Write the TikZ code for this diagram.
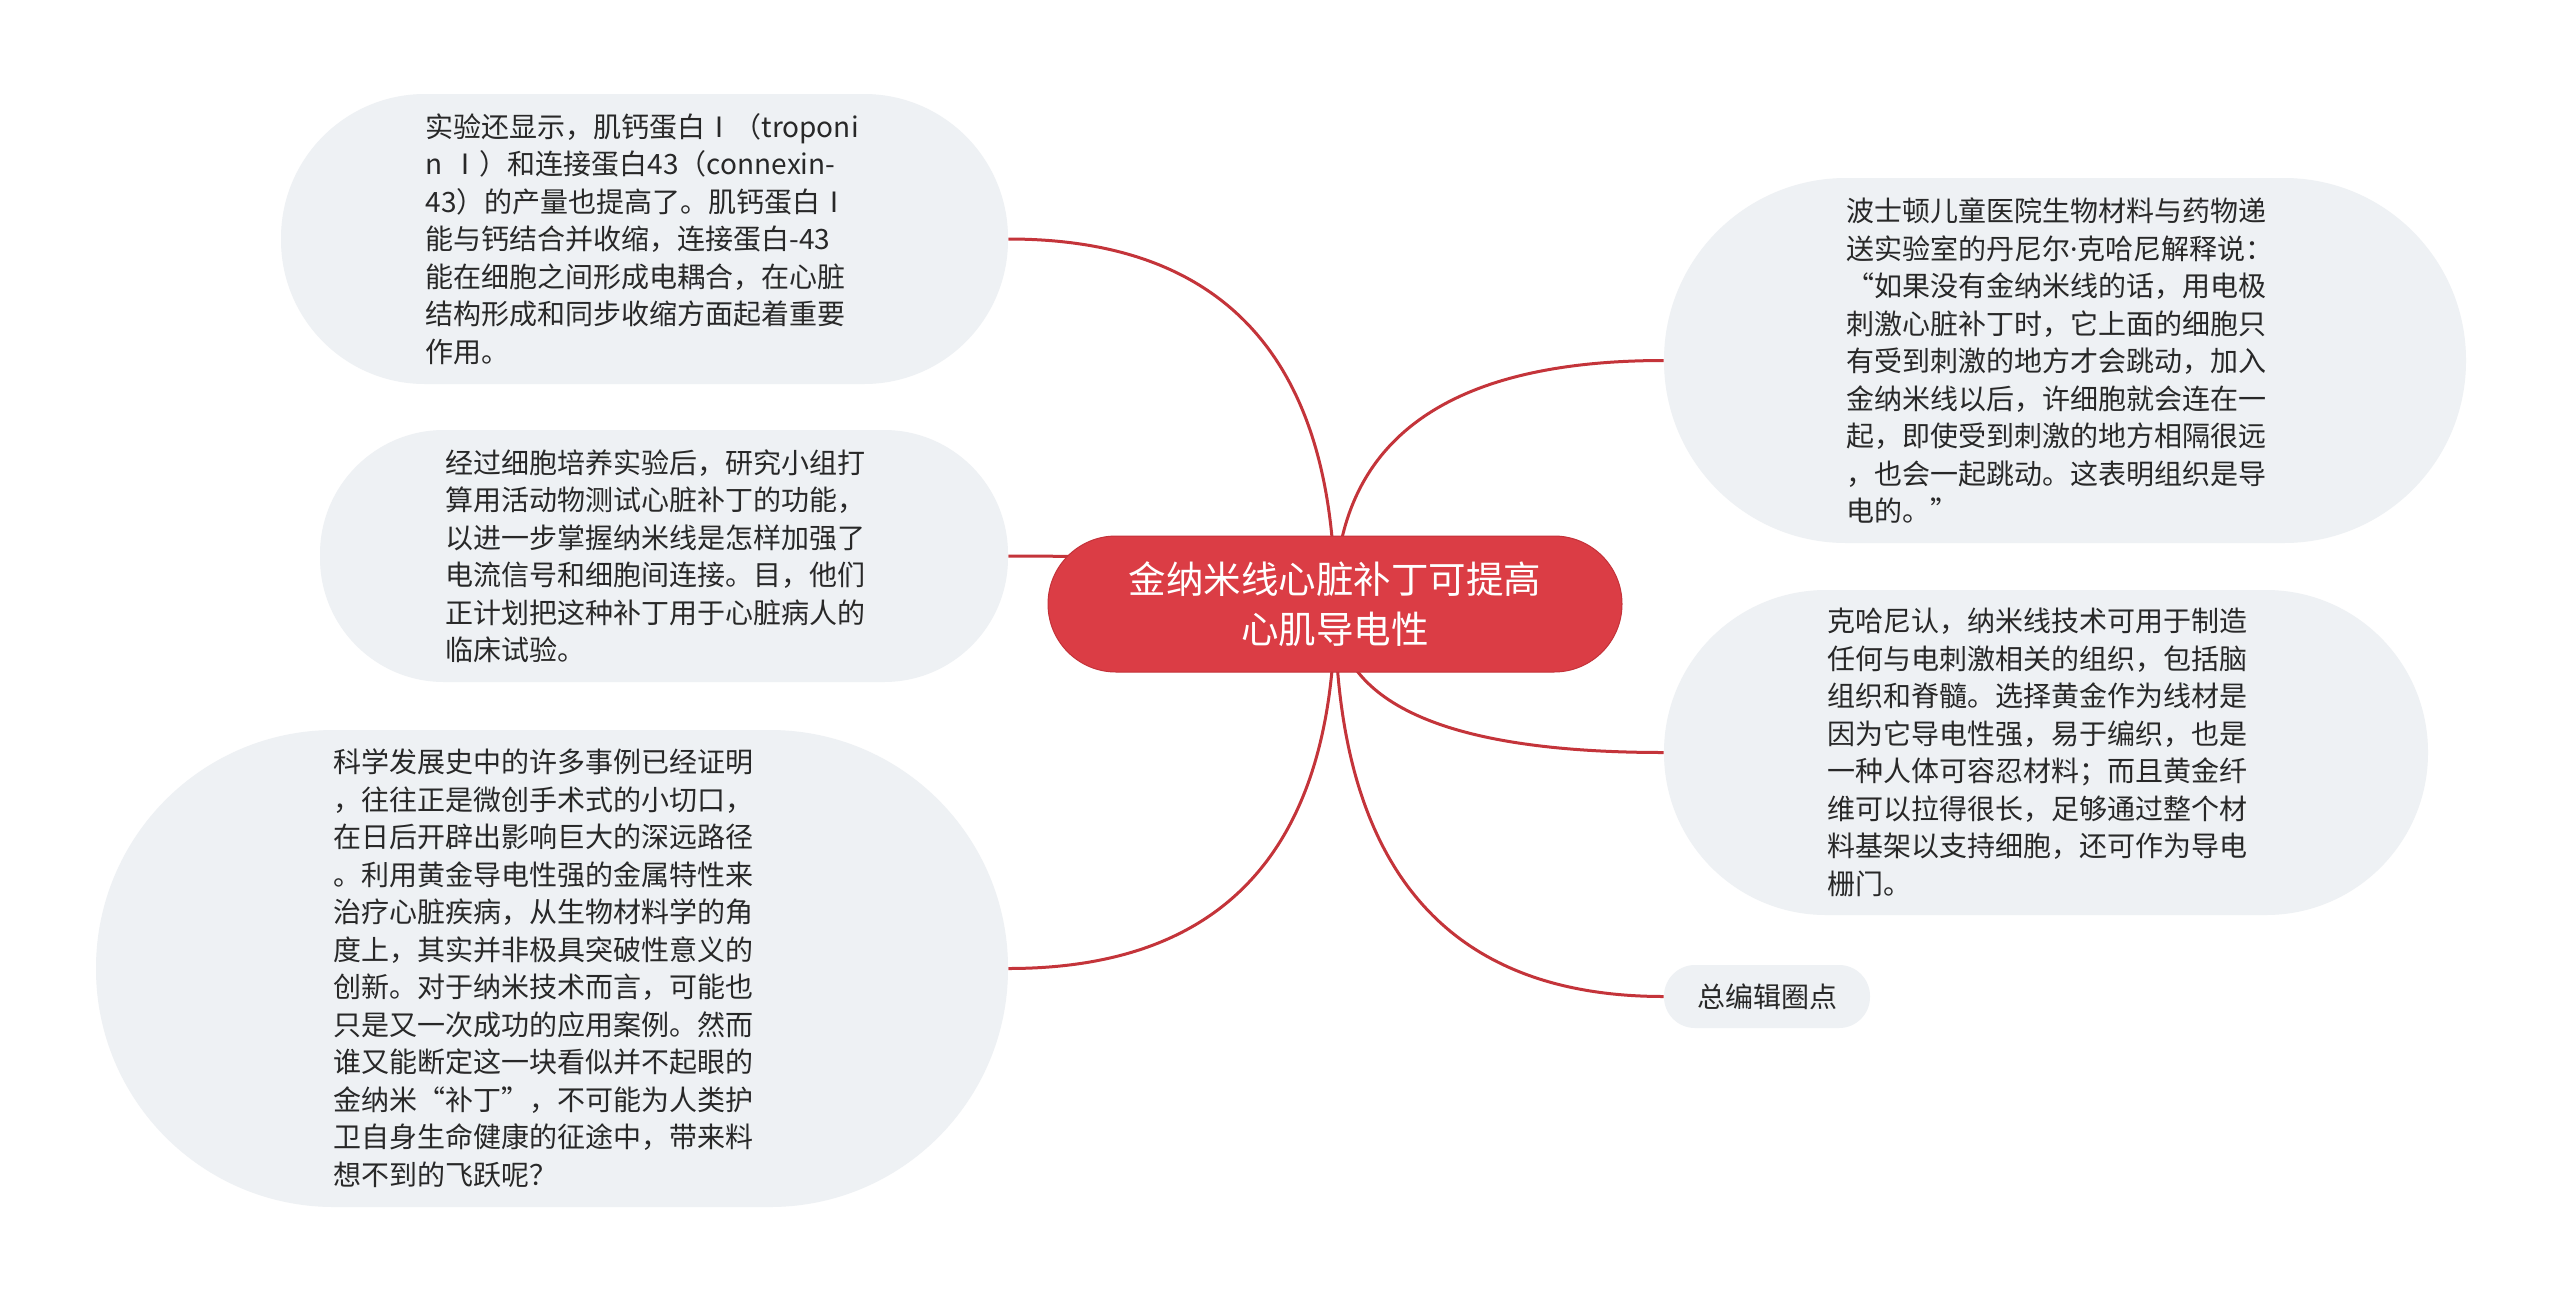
\documentclass[tikz,border=0pt]{standalone}
\usepackage{fontspec}
\usepackage{xcolor}
\usepackage{tikz}
\usetikzlibrary{calc,backgrounds}
\newfontfamily\cjk{Noto Sans CJK SC}
\newfontfamily\latin{Noto Sans}
\definecolor{boxfill}{RGB}{238,241,244}
\definecolor{rootred}{RGB}{219,61,69}
\definecolor{rootedge}{RGB}{196,50,57}
\definecolor{linkred}{RGB}{196,52,58}
\definecolor{bodytext}{RGB}{40,40,40}
\tikzset{
    bubble/.style={fill=boxfill, text=bodytext, inner sep=0pt, font=\cjk\fontsize{14}{18.75}\selectfont},
    para/.style={text width=219pt, align=left},
    rootbox/.style={fill=rootred, draw=rootedge, line width=0.5pt, text=white, inner sep=0pt, align=center, font=\cjk\fontsize{18.75}{25}\selectfont},
    link/.style={draw=linkred, line width=1.5pt}
}
\begin{document}
\begin{tikzpicture}[x=0.5pt, y=-0.5pt]
        \useasboundingbox (0,0) rectangle (2560,1302);
        \node[rootbox, minimum width=287pt, minimum height=68pt, rounded corners=34pt] (root) at (1335,604) {金纳米线心脏补丁可提高\\心肌导电性};
        \node[bubble, para, minimum width=363.5pt, minimum height=145pt, rounded corners=72pt] (t1) at (644.5,239) {实验还显示，肌钙蛋白Ⅰ（troponi\\n~Ⅰ）和连接蛋白43（connexin-\\43）的产量也提高了。肌钙蛋白Ⅰ\\能与钙结合并收缩，连接蛋白-43\\能在细胞之间形成电耦合，在心脏\\结构形成和同步收缩方面起着重要\\作用。};
        \node[bubble, para, minimum width=344pt, minimum height=126pt, rounded corners=62pt] (t2) at (664,556) {经过细胞培养实验后，研究小组打\\算用活动物测试心脏补丁的功能，\\以进一步掌握纳米线是怎样加强了\\电流信号和细胞间连接。目，他们\\正计划把这种补丁用于心脏病人的\\临床试验。};
        \node[bubble, para, minimum width=456pt, minimum height=238.5pt, rounded corners=119pt] (t3) at (552,968.5) {科学发展史中的许多事例已经证明\\，往往正是微创手术式的小切口，\\在日后开辟出影响巨大的深远路径\\。利用黄金导电性强的金属特性来\\治疗心脏疾病，从生物材料学的角\\度上，其实并非极具突破性意义的\\创新。对于纳米技术而言，可能也\\只是又一次成功的应用案例。然而\\谁又能断定这一块看似并不起眼的\\金纳米“补丁”，不可能为人类护\\卫自身生命健康的征途中，带来料\\想不到的飞跃呢？};
        \node[bubble, para, minimum width=401pt, minimum height=182.5pt, rounded corners=91pt] (t4) at (2065,360.5) {波士顿儿童医院生物材料与药物递\\送实验室的丹尼尔{\latin ·}克哈尼解释说：\\“如果没有金纳米线的话，用电极\\刺激心脏补丁时，它上面的细胞只\\有受到刺激的地方才会跳动，加入\\金纳米线以后，许细胞就会连在一\\起，即使受到刺激的地方相隔很远\\，也会一起跳动。这表明组织是导\\电的。”};
        \node[bubble, para, minimum width=382pt, minimum height=162.5pt, rounded corners=81pt] (t5) at (2046,752.5) {克哈尼认，纳米线技术可用于制造\\任何与电刺激相关的组织，包括脑\\组织和脊髓。选择黄金作为线材是\\因为它导电性强，易于编织，也是\\一种人体可容忍材料；而且黄金纤\\维可以拉得很长，足够通过整个材\\料基架以支持细胞，还可作为导电\\栅门。};
        \node[bubble, minimum width=103pt, minimum height=31.5pt, rounded corners=15.5pt] (t6) at (1767,996.5) {总编辑圈点};
        \begin{scope}[on background layer]
            \path[fill=white] (0,0) rectangle (2560,1302);
            \foreach \n/\s in {t1/east, t2/east, t3/east, t4/west, t5/west, t6/west}{
                \coordinate (q) at (root.center |- \n.\s);
                \path[link] (root.center) .. controls ($(root.center)!2/3!(q)$) and ($(\n.\s)!2/3!(q)$) .. (\n.\s);
            }
        \end{scope}
    \end{tikzpicture}
\end{document}
